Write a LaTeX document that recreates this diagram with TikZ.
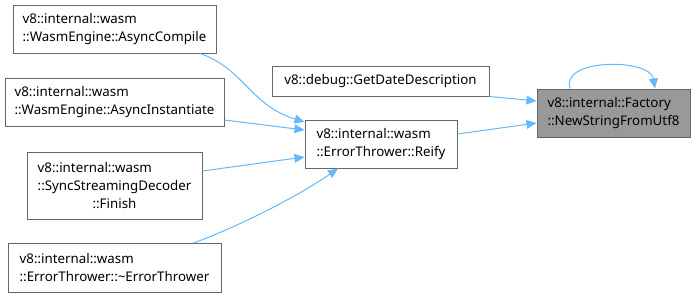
\documentclass[tikz,border=0pt]{standalone}
\usepackage{fontspec}
\setmainfont{Noto Sans}
\usepackage{calc}
\usetikzlibrary{arrows.meta,calc}

\definecolor{edgeblue}{HTML}{63B8FF}
\definecolor{boxline}{HTML}{666666}
\definecolor{boxfill}{HTML}{999999}

\tikzset{
  fn/.style={draw=boxline, line width=0.75pt, fill=white, inner sep=0pt,
    align=left, font=\fontsize{10pt}{13.5pt}\selectfont},
  cur/.style={fn, fill=boxfill},
  call/.style={draw=edgeblue, line width=0.75pt,
    -{Triangle[length=7.5pt, width=6.5pt]}},
}

\begin{document}
\begin{tikzpicture}[x=0.75pt, y=-0.75pt]
  \useasboundingbox (0,0) rectangle (696,298);

  % callers on the left
  \node[fn, minimum width=203*0.75pt, minimum height=48*0.75pt] (compile) at (114.5,29)
    {v8::internal::wasm\\::WasmEngine::AsyncCompile};
  \node[fn, minimum width=219*0.75pt, minimum height=48*0.75pt] (instantiate) at (114.5,102)
    {v8::internal::wasm\\::WasmEngine::AsyncInstantiate};
  \node[fn, minimum width=175*0.75pt, minimum height=67*0.75pt] (finish) at (114.5,185.5)
    {v8::internal::wasm\\::SyncStreamingDecoder\\\makebox[\widthof{::SyncStreamingDecoder}]{::Finish}};
  \node[fn, minimum width=213*0.75pt, minimum height=49*0.75pt] (dtor) at (114.5,268)
    {v8::internal::wasm\\::ErrorThrower::\textasciitilde ErrorThrower};

  % middle column
  \node[fn, minimum width=217*0.75pt, minimum height=30*0.75pt] (datedesc) at (380.5,81)
    {v8::debug::GetDateDescription};
  \node[fn, minimum width=152*0.75pt, minimum height=48*0.75pt] (reify) at (381,144)
    {v8::internal::wasm\\::ErrorThrower::Reify};

  % the function itself
  \node[cur, minimum width=153*0.75pt, minimum height=48*0.75pt] (factory) at (613.5,113)
    {v8::internal::Factory\\::NewStringFromUtf8};

  \draw[call] ($(compile.south east)+(-16,0)$)
    .. controls (245,70) and (250,105) .. ($(reify.west)+(0,-22)$);
  \draw[call] ($(instantiate.east)+(0,18)$) -- ($(reify.west)+(0,-14)$);
  \draw[call] ($(finish.east)+(0,-14.5)$) -- ($(reify.west)+(0,13)$);
  \draw[call] ($(dtor.north east)+(-28,0)$)
    .. controls (240,226) and (300,195) .. ($(reify.south)+(-43,0)$);

  \draw[call] (datedesc.south east) -- ($(factory.west)+(0,-12)$);
  \draw[call] ($(reify.east)+(0,-10)$) -- ($(factory.west)+(0,10)$);
  \draw[call] ($(factory.north)+(-43.5,0)$)
    .. controls (560,58) and (650,58) .. ($(factory.north)+(41.5,0)$);
\end{tikzpicture}
\end{document}
